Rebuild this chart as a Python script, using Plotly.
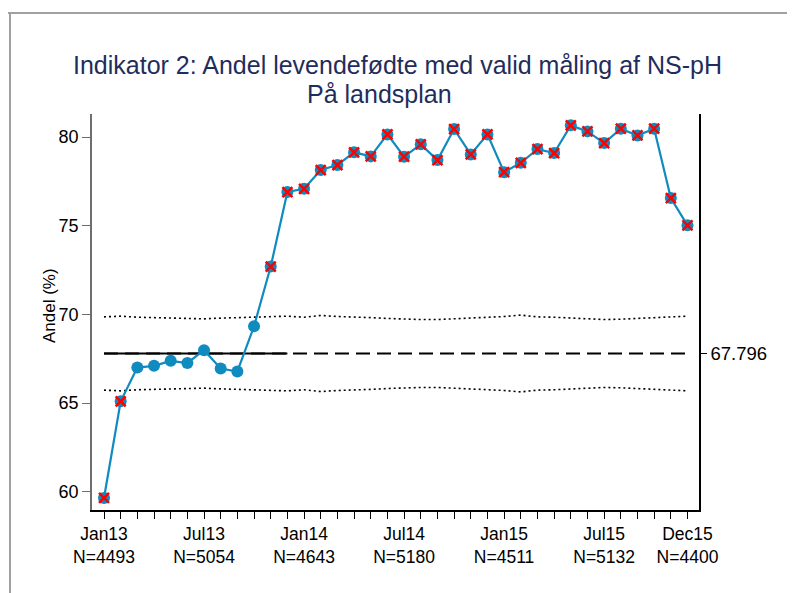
import plotly.graph_objects as go

months = ["Jan13","Feb13","Mar13","Apr13","May13","Jun13","Jul13","Aug13","Sep13","Oct13","Nov13","Dec13",
          "Jan14","Feb14","Mar14","Apr14","May14","Jun14","Jul14","Aug14","Sep14","Oct14","Nov14","Dec14",
          "Jan15","Feb15","Mar15","Apr15","May15","Jun15","Jul15","Aug15","Sep15","Oct15","Nov15","Dec15"]
andel = [59.65, 65.1, 67.0, 67.1, 67.38, 67.26, 67.98, 66.95, 66.78, 69.33, 72.7, 76.9,
         77.08, 78.14, 78.42, 79.14, 78.91, 80.15, 78.89, 79.59, 78.70, 80.45, 79.02, 80.15,
         78.02, 78.55, 79.32, 79.10, 80.66, 80.32, 79.66, 80.47, 80.09, 80.47, 76.56, 75.02]
ucl = [69.86, 69.90, 69.84, 69.82, 69.81, 69.81, 69.75, 69.79, 69.82, 69.86, 69.90, 69.90,
       69.84, 69.94, 69.88, 69.86, 69.82, 69.77, 69.73, 69.71, 69.71, 69.75, 69.81, 69.84,
       69.88, 69.96, 69.86, 69.84, 69.81, 69.77, 69.71, 69.73, 69.77, 69.79, 69.82, 69.90]
lcl = [65.73, 65.69, 65.75, 65.77, 65.78, 65.78, 65.84, 65.80, 65.77, 65.73, 65.69, 65.69,
       65.75, 65.65, 65.71, 65.73, 65.77, 65.82, 65.86, 65.88, 65.88, 65.84, 65.78, 65.75,
       65.71, 65.63, 65.73, 65.75, 65.78, 65.82, 65.88, 65.86, 65.82, 65.80, 65.77, 65.69]
signal = [True, True, False, False, False, False, False, False, False, False, True, True,
          True, True, True, True, True, True, True, True, True, True, True, True,
          True, True, True, True, True, True, True, True, True, True, True, True]
center = 67.796
baseline_n = 12
tick_idx = [0, 6, 12, 18, 24, 30, 35]
tick_n = ["4493", "5054", "4643", "5180", "4511", "5132", "4400"]
title1 = "Indikator 2: Andel levendefødte med valid måling af NS-pH"
title2 = "På landsplan"
ytitle = "Andel (%)"

x = list(range(len(months)))
BLUE = "#0f8bc0"
FONT = "Liberation Sans, Arial, sans-serif"

# figure is drawn inside an 8px page margin; sizes below are figure pixels
W, H = 787, 585
ML, MR, MT, MB = 84, 96, 106, 83
pw, ph = W - ML - MR, H - MT - MB

def px(xp):
    return (xp - ML) / pw

def py(yp):
    return (H - MB - yp) / ph

fig = go.Figure()
fig.add_trace(go.Scatter(x=x, y=ucl, mode="lines", line=dict(color="black", width=1.6, dash="2px,3px"), hoverinfo="skip"))
fig.add_trace(go.Scatter(x=x, y=lcl, mode="lines", line=dict(color="black", width=1.6, dash="2px,3px"), hoverinfo="skip"))
fig.add_trace(go.Scatter(x=[x[0], x[-1]], y=[center, center], mode="lines",
                         line=dict(color="black", width=1.8, dash="14px,7px"), hoverinfo="skip"))
fig.add_trace(go.Scatter(x=[x[0], x[baseline_n - 1]], y=[center, center], mode="lines",
                         line=dict(color="black", width=2), hoverinfo="skip"))
fig.add_trace(go.Scatter(x=x, y=andel, mode="lines+markers",
                         line=dict(color=BLUE, width=2.2),
                         marker=dict(color=BLUE, size=12, symbol="circle")))
sx = [xi for xi, s in zip(x, signal) if s]
sy = [yi for yi, s in zip(andel, signal) if s]
fig.add_trace(go.Scatter(x=sx, y=sy, mode="markers",
                         marker=dict(symbol="x-thin", size=10, line=dict(color="#ff0000", width=2.5))))
fig.add_trace(go.Scatter(x=[x[0]], y=[center], yaxis="y2", mode="markers", marker=dict(opacity=0), hoverinfo="skip"))

annotations = [
    dict(text=title1, x=px(397 - 8), y=py(65 - 8), xref="paper", yref="paper", showarrow=False,
         font=dict(size=25, color="#1f2d5c", family=FONT), xanchor="center", yanchor="middle"),
    dict(text=title2, x=px(379 - 8), y=py(94 - 8), xref="paper", yref="paper", showarrow=False,
         font=dict(size=25, color="#1f2d5c", family=FONT), xanchor="center", yanchor="middle"),
    dict(text=ytitle, x=px(49 - 8), y=py(306 - 8), xref="paper", yref="paper", showarrow=False,
         textangle=-90, font=dict(size=17, color="black", family=FONT), xanchor="center", yanchor="middle"),
]

ticktext = [f"{months[i]}<br>N={n}" for i, n in zip(tick_idx, tick_n)]

fig.update_layout(
    width=W, height=H,
    margin=dict(l=ML, r=MR, t=MT, b=MB),
    paper_bgcolor="white", plot_bgcolor="white",
    showlegend=False,
    font=dict(family=FONT, size=18, color="black"),
    xaxis=dict(range=[-0.72, 35.69], showgrid=False, zeroline=False,
               showline=True, linecolor="black", linewidth=1.5,
               tickmode="array", tickvals=tick_idx, ticktext=ticktext,
               ticks="outside", ticklen=7, tickcolor="black", tickwidth=1,
               minor=dict(tickmode="array", tickvals=x, ticks="outside", ticklen=7, tickcolor="black", tickwidth=1),
               tickfont=dict(size=17.5), tickangle=0),
    yaxis=dict(range=[58.97, 81.3], showgrid=False, zeroline=False,
               showline=True, linecolor="#6e6e6e", linewidth=1.5,
               tickvals=[60, 65, 70, 75, 80], ticks="outside", ticklen=8, tickcolor="#6e6e6e",
               tickfont=dict(size=18)),
    yaxis2=dict(range=[58.97, 81.3], overlaying="y", side="right", showgrid=False, zeroline=False,
                showline=True, linecolor="black", linewidth=1.5,
                tickvals=[center], ticktext=[f"{center:.3f}"], ticks="outside", ticklen=6,
                tickcolor="black", tickfont=dict(size=18.5)),
    annotations=annotations,
)

fig.add_shape(type="line", xref="paper", yref="paper",
              x0=px(-1), x1=px(W + 5), y0=py(5), y1=py(5),
              line=dict(color="#a0a0a0", width=2))
fig.add_shape(type="line", xref="paper", yref="paper",
              x0=px(2), x1=px(2), y0=py(5), y1=py(H + 5),
              line=dict(color="#a0a0a0", width=2))

fig.write_html("out.html")
